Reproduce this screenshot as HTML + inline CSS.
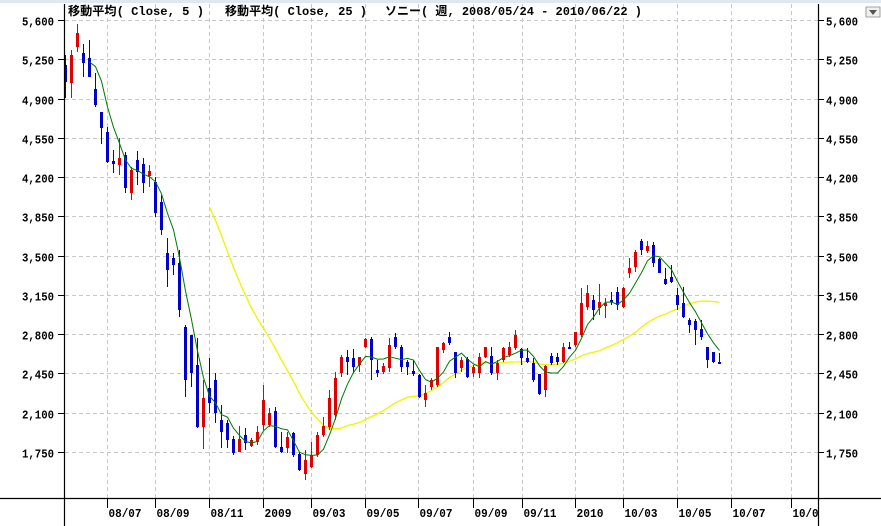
<!DOCTYPE html>
<html><head><meta charset="utf-8">
<style>
html,body{margin:0;padding:0;background:#fff;}
svg{display:block;}
text{font-family:"Liberation Mono","Noto Sans CJK JP",monospace;font-weight:bold;fill:#000;}
</style></head>
<body>
<svg id="s" width="881" height="526" xmlns="http://www.w3.org/2000/svg">
<rect x="0" y="0" width="881" height="526" fill="#fff"/>
<rect x="0" y="0" width="881" height="3" fill="#dfe8f0"/>
<g id="grid" stroke="#c8c8c8" stroke-width="1" stroke-dasharray="4,3"></g>
<g id="ma25"></g>
<g id="candles"></g>
<g id="ma5"></g>
<g stroke="#000" stroke-width="1.2">
<line x1="64.5" y1="4" x2="64.5" y2="526"/>
<line x1="818.5" y1="4" x2="818.5" y2="526"/>
<line x1="0" y1="498.5" x2="881" y2="498.5"/>
</g>
<g id="ticks" stroke="#000" stroke-width="1"></g>
<g font-size="12">
<text x="68" y="15" textLength="136" lengthAdjust="spacingAndGlyphs">移動平均( Close, 5 )</text>
<text x="225" y="15" textLength="142" lengthAdjust="spacingAndGlyphs">移動平均( Close, 25 )</text>
<text x="385" y="15" textLength="257" lengthAdjust="spacingAndGlyphs">ソニー( 週, 2008/05/24 - 2010/06/22 )</text>
</g>
<g font-size="12" id="ylab"></g>
<g font-size="12" id="xlab"></g>
<path d="M866,7 h14 v10 h-14 z" fill="#f0f0f0" stroke="#888" stroke-width="0.8"/>
<path d="M869,10 h8 l-4,5 z" fill="#555"/>
</svg>
<script>
var NS="http://www.w3.org/2000/svg";
function el(t,a,p){var e=document.createElementNS(NS,t);for(var k in a)e.setAttribute(k,a[k]);document.getElementById(p).appendChild(e);return e;}
var gy=[],labs=["5,600","5,250","4,900","4,550","4,200","3,850","3,500","3,150","2,800","2,450","2,100","1,750"];
for(var k=0;k<12;k++){var y=Math.round(20+39.27*k)+0.5;gy.push(y);
 el("line",{x1:65,y1:y,x2:818,y2:y},"grid");
 el("line",{x1:58,y1:y,x2:64,y2:y},"ticks");
 el("line",{x1:818,y1:y,x2:824,y2:y},"ticks");
 var t=el("text",{x:54,y:y+5,"text-anchor":"end",textLength:32,lengthAdjust:"spacingAndGlyphs"},"ylab");t.textContent=labs[k];
 var t2=el("text",{x:826,y:y+5,textLength:32,lengthAdjust:"spacingAndGlyphs"},"ylab");t2.textContent=labs[k];
}
var gx=[107,155,209,263,311,365,418,473,522,575,623,677,731,791];
var xl=["08/07","08/09","08/11","2009","09/03","09/05","09/07","09/09","09/11","2010","10/03","10/05","10/07","10/0"];
for(var k=0;k<gx.length;k++){var x=gx[k]+0.5;
 el("line",{x1:x,y1:4,x2:x,y2:498},"grid");
 el("line",{x1:x,y1:498,x2:x,y2:508},"ticks");
 var t=el("text",{x:x+1,y:517,textLength:(xl[k].length==5?33:(xl[k]=="2009"||xl[k]=="2010"?27:26)),lengthAdjust:"spacingAndGlyphs"},"xlab");t.textContent=xl[k];
}
// [color(1=red up,0=blue down), bodyTop, bodyBot, wickTop, wickBot]
var d=[
[0,65,82,55,98],[1,55,83,50,98],[1,33,47,24,52],[0,53,63,44,77],[0,58,77,40,77],
[0,89,105,73,107],[0,112,128,112,144],[0,132,162,127,163],[0,161,164,150,173],[1,158,165,138,175],
[0,155,188,152,193],[1,170,193,167,200],[0,160,172,151,185],[0,164,183,158,193],[1,171,176,165,187],
[0,182,213,177,217],[0,202,230,195,235],[0,253,270,238,287],[0,258,265,253,275],[0,263,310,250,317],
[0,327,380,325,397],[0,335,373,335,387],[0,365,427,338,428],[1,398,427,380,449],[0,388,403,358,413],
[0,380,413,373,423],[0,420,432,405,448],[0,423,440,420,448],[0,439,453,436,455],[1,439,452,426,452],
[0,435,443,428,450],[1,440,446,438,447],[1,432,442,426,445],[1,400,425,385,430],[1,413,425,408,427],
[0,411,447,407,448],[0,447,452,432,453],[1,437,448,432,453],[0,433,455,432,457],[0,454,470,452,471],
[1,460,474,450,480],[1,455,467,442,468],[1,435,455,432,457],[1,426,435,417,437],[1,398,427,390,430],
[1,378,415,372,420],[1,357,373,355,377],[0,357,362,350,375],[0,358,367,349,373],[1,357,365,357,372],
[1,339,347,338,348],[0,339,360,337,380],[0,370,373,360,377],[1,366,372,363,374],[1,345,368,338,372],
[0,337,347,333,349],[0,347,367,345,372],[0,362,367,360,375],[0,371,374,360,376],[0,375,397,374,398],
[1,393,400,385,407],[1,380,387,378,390],[1,347,385,347,387],[1,343,350,342,353],[0,337,343,332,345],
[0,352,373,352,378],[1,360,368,357,372],[0,359,377,357,378],[1,367,373,365,377],[1,357,373,353,378],
[1,347,357,347,358],[0,356,373,347,375],[1,363,373,360,380],[1,348,360,347,362],[1,347,355,342,357],
[1,335,348,330,350],[0,349,358,348,365],[0,358,362,348,363],[0,363,380,358,382],[0,374,394,374,395],
[1,366,390,365,397],[0,356,363,353,365],[0,357,362,353,365],[1,347,362,343,363],[0,347,348,342,349],
[1,332,345,332,347],[1,303,335,288,337],[1,293,307,285,310],[0,300,310,295,320],[1,302,308,284,315],
[1,303,306,298,318],[0,300,302,292,305],[0,292,305,287,310],[1,288,307,287,308],[1,268,273,258,278],
[1,252,267,250,272],[0,241,250,239,255],[1,246,251,241,253],[0,245,263,242,267],[0,259,273,258,273],
[0,279,284,268,285],[0,277,282,265,283],[0,295,305,288,310],[0,303,317,287,318],[0,320,325,318,333],
[0,321,330,319,345],[0,329,337,320,340],[0,347,360,347,368],[0,352,362,352,363],[0,362,363,353,363]
];
var closes=[];
for(var i=0;i<d.length;i++){var c=d[i],x=65+6*i;var col=c[0]?"#e00000":"#0000d0";
 closes.push(c[0]?c[1]:c[2]);
 el("line",{x1:x+0.5,y1:c[3],x2:x+0.5,y2:c[4],stroke:col,"stroke-width":1},"candles");
 var h=Math.max(c[2]-c[1],2);
 el("rect",{x:x-1,y:c[1],width:3,height:h,fill:col},"candles");
}
function ma(n){var pts=[];for(var i=n-1;i<closes.length;i++){var s=0;for(var j=i-n+1;j<=i;j++)s+=closes[j];pts.push((65+6*i+0.5)+","+(s/n).toFixed(1));}return pts.join(" ");}
el("polyline",{points:ma(25),fill:"none",stroke:"#f2f200","stroke-width":1.3},"ma25");
el("polyline",{points:ma(5),fill:"none",stroke:"#007a00","stroke-width":1},"ma5");
</script>
</body></html>
